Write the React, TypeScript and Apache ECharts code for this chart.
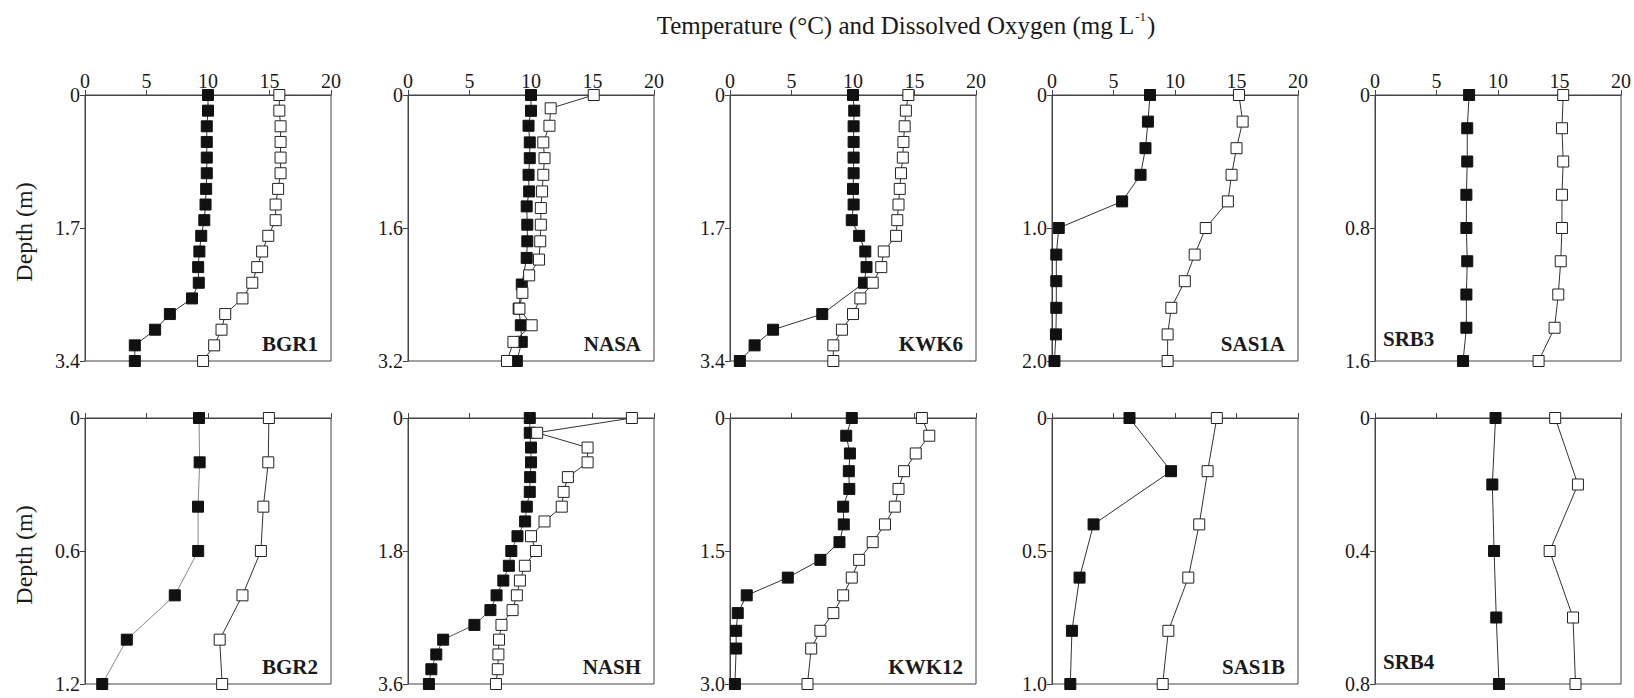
import React, { useEffect, useRef } from "react";
import * as echarts from "echarts";

const FONT = '"Liberation Serif", "Times New Roman", serif';

// ---- tick labels / axis ranges ----
const xTicks = [0, 5, 10, 15, 20];
const maxDepths = [3.4, 3.2, 3.4, 2.0, 1.6, 1.2, 3.6, 3.0, 1.0, 0.8];
const stationNames = ["BGR1", "NASA", "KWK6", "SAS1A", "SRB3", "BGR2", "NASH", "KWK12", "SAS1B", "SRB4"];

// ---- BGR1 ----
const bgr1Depth = [0, 0.2, 0.4, 0.6, 0.8, 1.0, 1.2, 1.4, 1.6, 1.8, 2.0, 2.2, 2.4, 2.6, 2.8, 3.0, 3.2, 3.4];
const bgr1DO = [10.0, 10.0, 9.9, 9.9, 9.9, 9.9, 9.85, 9.8, 9.7, 9.45, 9.3, 9.2, 9.25, 8.7, 6.9, 5.7, 4.05, 4.05];
const bgr1Temp = [15.8, 15.8, 15.9, 15.9, 15.9, 15.9, 15.7, 15.5, 15.5, 14.9, 14.4, 14.0, 13.6, 12.8, 11.4, 11.1, 10.5, 9.6];

// ---- NASA ----
const nasaDODepth = [0, 0.19, 0.37, 0.57, 0.76, 0.96, 1.16, 1.34, 1.56, 1.76, 1.96, 2.28, 2.57, 2.77, 2.97, 3.2];
const nasaDO = [10.0, 10.0, 9.8, 9.9, 9.9, 9.8, 9.85, 9.65, 9.7, 9.7, 9.65, 9.25, 9.0, 9.17, 9.25, 8.85];
const nasaTempDepth = [0, 0.16, 0.37, 0.57, 0.76, 0.96, 1.16, 1.36, 1.56, 1.76, 1.98, 2.17, 2.38, 2.57, 2.77, 2.97, 3.2];
const nasaTemp = [15.1, 11.6, 11.5, 11.0, 11.1, 11.0, 10.9, 10.8, 10.8, 10.75, 10.65, 9.85, 9.3, 9.06, 10.05, 8.57, 8.05];

// ---- KWK6 ----
const kwk6DODepth = [0, 0.2, 0.4, 0.6, 0.8, 1.0, 1.2, 1.4, 1.6, 1.8, 2.0, 2.2, 2.4, 2.8, 3.0, 3.2, 3.4];
const kwk6DO = [10.0, 10.1, 10.05, 10.05, 10.05, 10.05, 10.0, 10.05, 9.9, 10.5, 11.0, 11.1, 10.9, 7.5, 3.5, 2.0, 0.8];
const kwk6TempDepth = [0, 0.2, 0.4, 0.6, 0.8, 1.0, 1.2, 1.4, 1.6, 1.8, 2.0, 2.2, 2.4, 2.6, 2.8, 3.0, 3.2, 3.4];
const kwk6Temp = [14.5, 14.3, 14.2, 14.1, 14.05, 13.9, 13.8, 13.7, 13.6, 13.5, 12.5, 12.3, 11.6, 10.6, 10.0, 9.1, 8.4, 8.4];

// ---- SAS1A ----
const sas1aDepth = [0, 0.2, 0.4, 0.6, 0.8, 1.0, 1.2, 1.4, 1.6, 1.8, 2.0];
const sas1aDO = [7.97, 7.8, 7.6, 7.2, 5.7, 0.55, 0.35, 0.35, 0.35, 0.32, 0.2];
const sas1aTemp = [15.2, 15.5, 15.0, 14.6, 14.3, 12.5, 11.6, 10.8, 9.7, 9.4, 9.4];

// ---- SRB3 ----
const srb3Depth = [0, 0.2, 0.4, 0.6, 0.8, 1.0, 1.2, 1.4, 1.6];
const srb3DO = [7.65, 7.5, 7.5, 7.43, 7.43, 7.5, 7.43, 7.43, 7.16];
const srb3Temp = [15.3, 15.2, 15.3, 15.2, 15.2, 15.1, 14.9, 14.6, 13.3];

// ---- BGR2 ----
const bgr2Depth = [0, 0.2, 0.4, 0.6, 0.8, 1.0, 1.2];
const bgr2DO = [9.27, 9.32, 9.19, 9.2, 7.3, 3.4, 1.4];
const bgr2Temp = [14.95, 14.9, 14.5, 14.3, 12.8, 10.95, 11.15];

// ---- NASH ----
const nashDepth = [0, 0.2, 0.4, 0.6, 0.8, 1.0, 1.2, 1.4, 1.6, 1.8, 2.0, 2.2, 2.4, 2.6, 2.8, 3.0, 3.2, 3.4, 3.6];
const nashDO = [9.9, 9.9, 10.0, 10.0, 9.93, 9.9, 9.66, 9.52, 8.9, 8.4, 8.2, 7.75, 7.2, 6.7, 5.4, 2.86, 2.3, 1.9, 1.7];
const nashTemp = [18.2, 10.5, 14.6, 14.6, 13.0, 12.65, 12.5, 11.1, 10.0, 10.4, 9.5, 9.1, 8.85, 8.5, 7.6, 7.4, 7.35, 7.3, 7.15];

// ---- KWK12 ----
const kwk12Depth = [0, 0.2, 0.4, 0.6, 0.8, 1.0, 1.2, 1.4, 1.6, 1.8, 2.0, 2.2, 2.4, 2.6, 3.0];
const kwk12DO = [9.9, 9.45, 9.75, 9.66, 9.7, 9.2, 9.25, 8.9, 7.35, 4.7, 1.36, 0.63, 0.5, 0.5, 0.4];
const kwk12Temp = [15.6, 16.2, 15.1, 14.15, 13.7, 13.4, 12.6, 11.6, 10.5, 9.9, 9.2, 8.4, 7.35, 6.6, 6.3];

// ---- SAS1B ----
const sas1bDepth = [0, 0.2, 0.4, 0.6, 0.8, 1.0];
const sas1bDO = [6.3, 9.68, 3.38, 2.24, 1.62, 1.49];
const sas1bTemp = [13.4, 12.65, 11.97, 11.08, 9.46, 9.0];

// ---- SRB4 ----
const srb4Depth = [0, 0.2, 0.4, 0.6, 0.8];
const srb4DO = [9.8, 9.54, 9.68, 9.86, 10.08];
const srb4Temp = [14.65, 16.5, 14.2, 16.1, 16.3];

const panelData = [
  { doDepth: bgr1Depth, dox: bgr1DO, tDepth: bgr1Depth, t: bgr1Temp },
  { doDepth: nasaDODepth, dox: nasaDO, tDepth: nasaTempDepth, t: nasaTemp },
  { doDepth: kwk6DODepth, dox: kwk6DO, tDepth: kwk6TempDepth, t: kwk6Temp },
  { doDepth: sas1aDepth, dox: sas1aDO, tDepth: sas1aDepth, t: sas1aTemp },
  { doDepth: srb3Depth, dox: srb3DO, tDepth: srb3Depth, t: srb3Temp },
  { doDepth: bgr2Depth, dox: bgr2DO, tDepth: bgr2Depth, t: bgr2Temp },
  { doDepth: nashDepth, dox: nashDO, tDepth: nashDepth, t: nashTemp },
  { doDepth: kwk12Depth, dox: kwk12DO, tDepth: kwk12Depth, t: kwk12Temp },
  { doDepth: sas1bDepth, dox: sas1bDO, tDepth: sas1bDepth, t: sas1bTemp },
  { doDepth: srb4Depth, dox: srb4DO, tDepth: srb4Depth, t: srb4Temp },
];

// layout (pixels) and per-panel line styling
const colLeft = [85, 408, 730, 1052, 1375];
const rowTop = [95, 418];
const gridW = 246;
const gridH = 266;
const doLineColor = ["#333", "#333", "#333", "#333", "#333", "#888", "#555", "#333", "#333", "#333"];

export default function App() {
  const ref = useRef<HTMLDivElement>(null);
  useEffect(() => {
    if (!ref.current) return;
    const chart = echarts.init(ref.current, null, { renderer: "svg" });
    const axisColor = "#444";
    const textColor = "#1a1a1a";
    const grids: any[] = [];
    const xAxes: any[] = [];
    const yAxes: any[] = [];
    const series: any[] = [];
    const graphics: any[] = [];

    panelData.forEach((p, i) => {
      const row = Math.floor(i / 5);
      const col = i % 5;
      const left = colLeft[col];
      const top = rowTop[row];
      const maxD = maxDepths[i];
      grids.push({
        left, top, width: gridW, height: gridH,
        show: true, borderColor: axisColor, borderWidth: 1, backgroundColor: "transparent",
      });
      xAxes.push({
        type: "value", gridIndex: i, position: "top", min: xTicks[0], max: xTicks[xTicks.length - 1], interval: 5,
        axisLine: { show: true, lineStyle: { color: axisColor, width: 1 } },
        axisTick: { show: true, inside: false, length: 5, lineStyle: { color: axisColor } },
        axisLabel: { show: row === 0, color: textColor, fontFamily: FONT, fontSize: 20, margin: 4 },
        splitLine: { show: false },
      });
      yAxes.push({
        type: "value", gridIndex: i, inverse: true, min: 0, max: maxD, interval: maxD / 2,
        axisLine: { show: true, lineStyle: { color: axisColor, width: 1 } },
        axisTick: { show: true, inside: false, length: 5, lineStyle: { color: axisColor } },
        axisLabel: {
          show: true, color: textColor, fontFamily: FONT, fontSize: 20, margin: 5,
          formatter: (v: number) => (Math.abs(v) < 1e-9 ? "0" : v.toFixed(1)),
        },
        splitLine: { show: false },
      });
      series.push({
        type: "line", xAxisIndex: i, yAxisIndex: i, name: "DO",
        data: p.dox.map((v, k) => [v, p.doDepth[k]]),
        symbol: "rect", symbolSize: 11, showSymbol: true,
        lineStyle: { color: doLineColor[i], width: 1 },
        itemStyle: { color: "#111", borderColor: "#111", borderWidth: 1 },
        z: 2,
      });
      series.push({
        type: "line", xAxisIndex: i, yAxisIndex: i, name: "Temperature",
        data: p.t.map((v, k) => [v, p.tDepth[k]]),
        symbol: "rect", symbolSize: 11, showSymbol: true,
        lineStyle: { color: "#333", width: 1 },
        itemStyle: { color: "#fff", borderColor: "#222", borderWidth: 1 },
        z: 3,
      });
      const leftLabel = col === 4;
      graphics.push({
        type: "text",
        x: leftLabel ? left + 8 : left + gridW - 13,
        y: top + gridH - (leftLabel ? 22 : 17),
        style: {
          text: stationNames[i], fontFamily: FONT, fontSize: 21, fontWeight: "bold", fill: textColor,
          align: leftLabel ? "left" : "right", verticalAlign: "middle",
        },
      });
    });

    graphics.push({
      type: "text", x: 906, y: 24,
      style: {
        text: "{a|Temperature (°C) and Dissolved Oxygen (mg L}{s|-1}{a|)}",
        align: "center", verticalAlign: "middle",
        rich: {
          a: { fontFamily: FONT, fontSize: 25, fill: textColor, lineHeight: 28, verticalAlign: "bottom" },
          s: { fontFamily: FONT, fontSize: 13, fill: textColor, lineHeight: 28, verticalAlign: "top", padding: [0, 1, 0, 1] },
        },
      },
    });
    [0, 1].forEach((r) => {
      graphics.push({
        type: "text", x: 24, y: rowTop[r] + gridH / 2 + 4, rotation: Math.PI / 2,
        style: { text: "Depth (m)", fontFamily: FONT, fontSize: 24, fill: textColor, align: "center", verticalAlign: "middle" },
      });
    });

    chart.setOption({
      animation: false,
      backgroundColor: "#fff",
      grid: grids, xAxis: xAxes, yAxis: yAxes, series, graphic: graphics,
    });
    return () => chart.dispose();
  }, []);
  return <div ref={ref} style={{ position: "fixed", left: 0, top: 0, width: 1634, height: 698 }} />;
}
